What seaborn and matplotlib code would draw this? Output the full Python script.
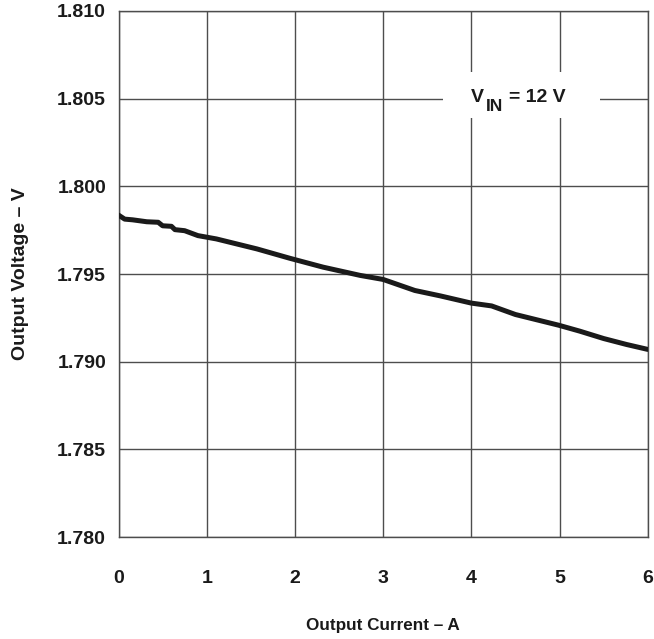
import numpy as np
import pandas as pd
import matplotlib
matplotlib.use("Agg")
import matplotlib.pyplot as plt
import seaborn as sns
from matplotlib.patches import Rectangle
from matplotlib.transforms import offset_copy

# Output voltage vs load current, VIN = 12 V
current = [0.00, 0.07, 0.16, 0.32, 0.45, 0.50, 0.60, 0.64, 0.75, 0.90,
           1.00, 1.11, 1.57, 1.94, 2.32, 2.74, 3.00, 3.36, 3.65, 4.00,
           4.23, 4.50, 4.99, 5.23, 5.50, 5.76, 6.00]
voltage = [1.79836, 1.79813, 1.79809, 1.79798, 1.79795, 1.79775, 1.79772, 1.79753, 1.79747, 1.79719,
           1.79710, 1.79700, 1.79643, 1.79590, 1.79539, 1.79492, 1.79469, 1.79406, 1.79375, 1.79334,
           1.79318, 1.79269, 1.79208, 1.79174, 1.79132, 1.79098, 1.79070]

x_ticks = [0, 1, 2, 3, 4, 5, 6]
y_ticks = [1.780, 1.785, 1.790, 1.795, 1.800, 1.805, 1.810]

sns.set_style("whitegrid", {"grid.color": "#4d4d4d", "axes.edgecolor": "#4d4d4d"})
plt.rcParams['font.family'] = ['Liberation Sans', 'DejaVu Sans']
plt.rcParams['font.weight'] = 'bold'

df = pd.DataFrame({"current": current, "voltage": voltage})

fig = plt.figure(figsize=(6.54, 6.39), dpi=100)
ax = fig.add_axes([0.1812, 0.1596, 0.8092, 0.8232])

sns.lineplot(data=df, x="current", y="voltage", color="#1a1a1a", linewidth=3.6, ax=ax, zorder=3)

ax.set_xlim(0, 6)
ax.set_ylim(1.780, 1.810)
ax.set_xticks(x_ticks)
ax.set_yticks(y_ticks)
ax.set_xticklabels([str(t) for t in x_ticks])
ax.set_yticklabels([f"{t:.3f}" for t in y_ticks])
ax.tick_params(axis='both', length=0, labelsize=14, colors='#1a1a1a')
ax.tick_params(axis='x', pad=24)
ax.tick_params(axis='y', pad=9)
ax.grid(True, color="#4d4d4d", linewidth=1.0)
for s in ax.spines.values():
    s.set_color("#4d4d4d")
    s.set_linewidth(1.0)

ax.set_xlabel("Output Current – A", fontsize=12.3, fontweight='bold', labelpad=22, color='#1a1a1a')
ax.set_ylabel("Output Voltage – V", fontsize=14, fontweight='bold', labelpad=20, color='#1a1a1a')

# white patch behind the annotation so the grid is cut out there
ax.add_patch(Rectangle((3.68, 1.80387), 1.78, 0.00267, facecolor='white',
                       edgecolor='none', zorder=2))

# V_IN = 12 V, built from pieces so the subscript stays large
tx, ty = 4.0, 1.80483
ax.text(tx, ty, "V", fontsize=14, fontweight='bold', ha='left', va='baseline',
        zorder=4, color='#1a1a1a')
ax.text(tx, ty, "IN", fontsize=12.5, fontweight='bold', ha='left', va='baseline', zorder=4,
        color='#1a1a1a', transform=offset_copy(ax.transData, fig=fig, x=14.5, y=-9.5, units='dots'))
ax.text(tx, ty, "= 12 V", fontsize=14, fontweight='bold', ha='left', va='baseline', zorder=4,
        color='#1a1a1a', transform=offset_copy(ax.transData, fig=fig, x=37.5, y=0, units='dots'))

fig.savefig("out.png", dpi=100)
